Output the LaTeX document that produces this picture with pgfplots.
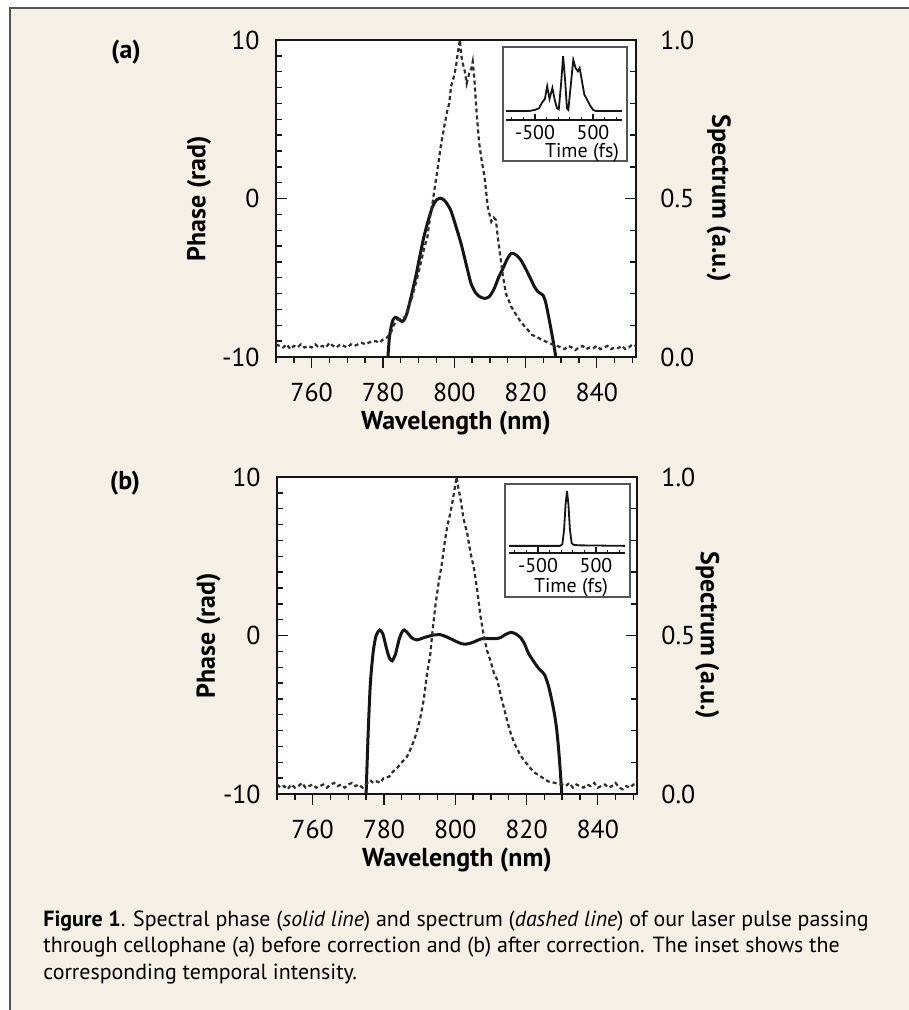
\documentclass[border=0pt]{standalone}
\usepackage{fontspec}
\setmainfont{PT Sans}
\setsansfont{PT Sans}
\usepackage{pgfplots}
\pgfplotsset{compat=1.18}
\definecolor{paper}{HTML}{F4F0E5}
\definecolor{ink}{HTML}{151515}
\definecolor{dashgray}{HTML}{2E2E2E}
\definecolor{framegray}{HTML}{555555}

\pgfplotsset{
  panel/.style={
    scale only axis, width=180bp, height=158.5bp,
    xmin=750, xmax=851,
    axis line style={line width=0.8bp, ink, -},
    every tick/.style={line width=0.7bp, ink},
    major tick length=5.5bp, minor tick length=3bp,
    tick label style={font=\fontsize{13}{15}\selectfont, inner sep=0pt},
    label style={font=\bfseries\fontsize{13}{15}\selectfont},
  },
  phaseaxis/.style={
    panel,
    ymin=-10, ymax=10,
    ytick={-10,0,10}, yticklabels={-10,0,10}, minor ytick={-9,...,9},
    xtick={760,780,...,840}, xticklabels={760,780,800,820,840},
    minor xtick={750,755,...,850},
    xtick pos=left, ytick pos=left,
    xtick align=outside, ytick align=inside,
    axis background/.style={fill=white},
    yticklabel style={xshift=-8bp},
    xticklabel style={yshift=-7.5bp},
    xlabel={Wavelength (nm)},
    xlabel style={at={(axis description cs:0.5,-0.23)}, anchor=base},
  },
  specaxis/.style={
    panel,
    ymin=0, ymax=1,
    axis y line*=right, hide x axis,
    ytick={0,0.5,1}, yticklabels={0.0,0.5,1.0}, minor ytick={0.1,0.2,...,0.9},
    ytick align=inside,
    yticklabel style={xshift=12bp},
  },
  inset/.style={
    scale only axis, width=58bp, height=32bp,
    xmin=-1000, xmax=1000, ymin=-0.164, ymax=1.0,
    hide y axis, axis x line*=bottom,
    axis line style={line width=0.7bp, ink, -},
    every tick/.style={line width=0.6bp, ink},
    xtick={-500,500}, xticklabels={-500,500},
    minor xtick={-900,-700,-300,-100,100,300,700,900},
    xtick align=inside, major tick length=3bp, minor tick length=1.5bp,
    tick label style={font=\fontsize{10}{12}\selectfont, inner sep=0pt},
    xticklabel style={yshift=-2.5bp},
    xlabel={Time (fs)},
    xlabel style={font=\fontsize{10}{12}\selectfont},
  },
  solid/.style={line width=1.5bp, ink, smooth, tension=0.4},
  dashed line/.style={line width=1.1bp, dashgray, dash pattern=on 2bp off 1.5bp},
}

\begin{document}
\begin{tikzpicture}
\useasboundingbox (0,0) rectangle (454.5bp,-505bp);
\fill[paper] (5bp,-4bp) rectangle (454.5bp,-505bp);
\draw[framegray, line width=0.8bp] (454.5bp,-4bp) -- (5bp,-4bp) -- (5bp,-505bp);

% ---------------- panel (a)
\begin{axis}[phaseaxis, at={(138bp,-178.5bp)}, anchor=south west,
  ylabel={Phase (rad)},
  ylabel style={at={(axis description cs:-0.214,0.5)}, anchor=center, rotate=0}]
\addplot[solid] coordinates {
(781.4,-10) (781.8,-8.8) (782.3,-8.1) (782.8,-7.67) (783.4,-7.5) (784,-7.54)
(784.7,-7.65) (785.4,-7.77) (786.1,-7.6) (786.8,-7.2) (787.8,-6.3) (789.2,-4.93)
(790.3,-3.7) (791.5,-2.41) (792.7,-1.4) (793.9,-0.52) (795,-0.1) (796.2,0.02)
(797.4,-0.15) (799,-0.73) (800.4,-1.7) (801.9,-2.83) (803.3,-4.1) (804.7,-5.35)
(806,-5.95) (807.2,-6.2) (808.5,-6.3) (809.8,-6.2) (811.2,-5.7) (812.5,-4.95)
(813.6,-4.45) (814.8,-3.85) (816,-3.46) (817.3,-3.55) (818.7,-3.88) (820.2,-4.5)
(821.6,-5.14) (822.6,-5.6) (823.5,-5.88) (824.3,-6.0) (824.9,-6.1) (825.6,-6.5)
(826.3,-7.24) (827.2,-8.3) (828,-9.3) (828.5,-10)
};
\end{axis}
\begin{axis}[specaxis, at={(138bp,-178.5bp)}, anchor=south west,
  ylabel={Spectrum (a.u.)},
  ylabel style={at={(axis description cs:1.23,0.5)}, anchor=center, rotate=180}]
\addplot[dashed line] coordinates {
(750,0.04) (751,0.035) (752,0.03) (753,0.04) (754,0.025) (755,0.035) (756,0.03)
(757,0.04) (758,0.03) (759,0.035) (760,0.03) (761,0.04) (762,0.03) (763,0.035)
(764,0.03) (765,0.045) (766,0.035) (767,0.03) (768,0.04) (769,0.035) (770,0.03)
(771,0.04) (772,0.035) (773,0.04) (774,0.045) (775,0.04) (776,0.045) (777,0.05)
(778,0.05) (779,0.045) (780,0.055) (781,0.06) (782.2,0.075) (783,0.1) (784,0.117)
(785,0.12) (786.3,0.127) (787.2,0.16) (788.2,0.19) (789.4,0.24) (790.6,0.295)
(791.5,0.34) (792.5,0.38) (793.2,0.44) (793.9,0.485) (794.6,0.54) (795.3,0.59)
(796.2,0.663) (797.2,0.727) (798.1,0.78) (798.6,0.8) (799.1,0.853) (799.8,0.88)
(800.5,0.916) (801,0.96) (801.6,1.0) (802,0.95) (802.4,0.926) (803,0.9)
(803.5,0.863) (804.2,0.895) (804.8,0.91) (805.2,0.932) (805.7,0.87) (806.1,0.8)
(806.5,0.74) (807,0.674) (807.7,0.62) (808.5,0.569) (809.4,0.474) (810.4,0.427)
(811.1,0.44) (811.7,0.432) (812.2,0.38) (812.7,0.338) (813.6,0.26) (814.5,0.2)
(816,0.159) (817,0.14) (818.3,0.117) (819.5,0.1) (820.7,0.085) (821.8,0.07)
(823,0.064) (824.5,0.055) (825.8,0.048) (827.5,0.04) (829.6,0.032) (831,0.025)
(832,0.035) (833,0.03) (834,0.022) (835,0.03) (836,0.035) (837,0.025) (838,0.03)
(839,0.028) (840,0.035) (841,0.025) (842,0.03) (843,0.035) (844,0.025) (845,0.03)
(846,0.028) (847,0.035) (848,0.025) (849,0.03) (850,0.04) (851,0.035)
};
\end{axis}

% ---------------- panel (b)
\begin{axis}[phaseaxis, at={(138.5bp,-397bp)}, anchor=south west,
  ylabel={Phase (rad)},
  ylabel style={at={(axis description cs:-0.19,0.5)}, anchor=center, rotate=0}]
\addplot[solid] coordinates {
(775,-10) (775.6,-6) (776.2,-3) (777,-1.0) (777.8,0.0) (778.8,0.35) (779.7,0.1)
(780.7,-0.8) (781.5,-1.4) (782.3,-1.6) (783.2,-1.2) (784.2,-0.3) (785,0.2)
(785.7,0.35) (786.7,0.15) (787.8,-0.15) (789.3,-0.28) (791,-0.15) (792.5,-0.05)
(794,0.03) (795.9,0.05) (797.7,-0.1) (799.6,-0.3) (801,-0.45) (802.5,-0.55)
(804,-0.5) (805.3,-0.4) (806.8,-0.25) (808.1,-0.18) (810,-0.2) (811.5,-0.2)
(812.8,-0.12) (814,0.05) (815.6,0.2) (817,0.1) (818.4,-0.15) (819.5,-0.55)
(820.5,-1.1) (822.2,-1.7) (823.5,-2.1) (825,-2.45) (826.2,-3.2) (827.2,-4.2)
(827.8,-4.9) (828.4,-5.8) (828.9,-6.9) (829.4,-8.3) (829.9,-10)
};
\end{axis}
\begin{axis}[specaxis, at={(138.5bp,-397bp)}, anchor=south west,
  ylabel={Spectrum (a.u.)},
  ylabel style={at={(axis description cs:1.195,0.5)}, anchor=center, rotate=180}]
\addplot[dashed line] coordinates {
(750,0.03) (751,0.02) (752,0.025) (753,0.015) (754,0.03) (755,0.02) (756,0.025)
(757,0.035) (758,0.02) (759,0.025) (760,0.03) (761,0.02) (762,0.025) (763,0.03)
(764,0.02) (765,0.03) (766,0.035) (767,0.025) (768,0.03) (769,0.02) (770,0.03)
(771,0.035) (772,0.025) (773,0.03) (774,0.02) (775,0.03) (776.1,0.044) (777,0.035)
(778,0.04) (779,0.035) (779.9,0.05) (781.5,0.055) (782.5,0.07) (783.7,0.082)
(785,0.1) (786.5,0.118) (787.4,0.14) (788.5,0.17) (789.3,0.2) (790.2,0.24)
(791.2,0.3) (792.1,0.38) (793,0.44) (793.5,0.5) (794.5,0.6) (795.4,0.67)
(796.3,0.73) (797,0.79) (797.7,0.84) (798.5,0.88) (799.2,0.92) (799.8,0.96)
(800.4,1.0) (800.8,0.97) (801.5,0.93) (802.3,0.87) (803.4,0.82) (804.3,0.76)
(805.3,0.71) (806.2,0.64) (807.1,0.56) (808,0.5) (809,0.45) (809.9,0.42)
(810.9,0.38) (811.8,0.36) (812.8,0.31) (813.7,0.27) (814.6,0.23) (815.6,0.19)
(816.6,0.16) (818.4,0.12) (819.3,0.107) (820.8,0.085) (822.2,0.068) (824,0.055)
(826,0.04) (828,0.035) (830,0.03) (831,0.025) (832,0.035) (833,0.02) (834,0.03)
(835,0.025) (836,0.02) (837,0.03) (838,0.025) (839,0.035) (840,0.02) (841,0.025)
(842,0.03) (843,0.02) (844,0.025) (845,0.035) (846,0.02) (847,0.015) (848,0.025)
(849,0.02) (850,0.03) (851,0.03)
};
\end{axis}

% ---------------- insets
\draw[framegray, line width=0.8bp, fill=white] (251.5bp,-23.5bp) rectangle (313.5bp,-80.5bp);
\begin{axis}[inset, at={(253bp,-60bp)}, anchor=south west,
  xlabel style={at={(axis description cs:0.5,0)}, anchor=base, yshift=-18.8bp, xshift=9bp}]
\addplot[line width=0.9bp, ink] coordinates {
(-1000,0) (-600,0) (-500,0.02) (-430,0.05) (-380,0.15) (-330,0.22) (-290,0.45)
(-250,0.22) (-200,0.42) (-160,0.2) (-120,0.05) (-90,0.03) (-50,0.5) (-15,1.0)
(20,0.55) (50,0.05) (75,0.02) (110,0.4) (160,0.93) (200,0.78) (240,0.72)
(270,0.78) (300,0.6) (350,0.3) (400,0.2) (450,0.1) (500,0.02) (550,0) (1000,0)
};
\end{axis}

\draw[framegray, line width=0.8bp, fill=white] (252.5bp,-242bp) rectangle (315bp,-298.5bp);
\begin{axis}[inset, at={(254.5bp,-276.5bp)}, anchor=south west, ymin=-0.13, height=31bp,
  xlabel style={at={(axis description cs:0.5,0)}, anchor=base, yshift=-19.8bp, xshift=2bp}]
\addplot[line width=0.9bp, ink] coordinates {
(-1000,0) (-120,0) (-80,0.03) (-50,0.3) (-25,0.75) (0,1.0) (25,0.75) (50,0.3)
(80,0.05) (110,0.02) (200,0.01) (1000,0)
};
\end{axis}

% ---------------- panel tags and caption
\node[font=\bfseries\fontsize{13}{15}\selectfont] at (63bp,-26bp) {(a)};
\node[font=\bfseries\fontsize{13}{15}\selectfont] at (62.5bp,-241.5bp) {(b)};

\begin{scope}[every node/.style={anchor=base west, inner sep=0pt, font=\fontsize{11}{13}\selectfont}]
\node at (21.5bp,-463bp) {\textbf{Figure 1}. Spectral phase (\textit{solid line}) and spectrum (\textit{dashed line}) of our laser pulse passing};
\node at (21.5bp,-476.3bp) {through cellophane (a) before correction and (b) after correction. The inset shows the};
\node at (21.5bp,-489.6bp) {corresponding temporal intensity.};
\end{scope}
\end{tikzpicture}
\end{document}
